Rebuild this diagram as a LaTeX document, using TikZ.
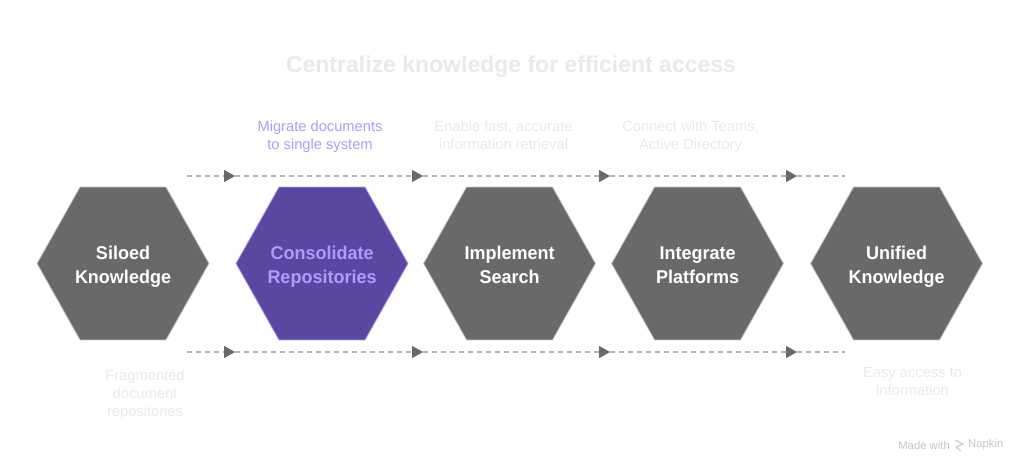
\documentclass[tikz,border=0pt]{standalone}
\usepackage{fontspec}
\setmainfont{Liberation Sans}
\usepackage{tikz}
\usetikzlibrary{shapes.geometric, arrows.meta, positioning}
\definecolor{hexgray}{HTML}{696969}
\definecolor{hexedge}{HTML}{C8C8C8}
\definecolor{hexpurple}{HTML}{5B479F}
\definecolor{lilac}{HTML}{AE9BFC}
\definecolor{faint}{HTML}{E9E9E9}
\definecolor{dashgray}{HTML}{B4B4B4}
\definecolor{markgray}{HTML}{C4C4C4}
\newcommand{\twolines}[2]{\strut\makebox[0pt]{\raisebox{-3pt}{#1}}\\\strut\makebox[0pt]{\raisebox{-3pt}{#2}}}
\tikzset{
	hexbox/.style={regular polygon, regular polygon sides=6, minimum size=172pt, yscale=1.027, transform shape,
		inner sep=0pt, outer sep=0pt, draw=hexedge, line width=0.8pt, fill=hexgray,
		text=white, align=center, font=\fontsize{18}{23}\selectfont\bfseries},
	hexactive/.style={hexbox, draw=lilac, fill=hexpurple, text=lilac},
	note/.style={inner sep=0pt, align=center, text=faint, font=\fontsize{14.7}{18}\selectfont},
	flowline/.style={dashed, dash pattern=on 5pt off 4pt, line width=1.1pt, draw=dashgray},
	flowarrow/.style={flowline, -{Triangle[length=11pt,width=12pt,color=hexgray]}}
}
\begin{document}
\begin{tikzpicture}[x=1pt,y=-1pt]
	\useasboundingbox (0,0) rectangle (1024,469);
	\coordinate (start) at (123,263.5);
	\node[hexbox] (silo) at (start) {\twolines{Siloed}{Knowledge}};
	\node[hexactive, right=27pt of silo] (repo) {\twolines{Consolidate}{Repositories}};
	\node[hexbox, right=15.5pt of repo] (search) {\twolines{Implement}{Search}};
	\node[hexbox, right=16pt of search] (plat) {\twolines{Integrate}{Platforms}};
	\node[hexbox, right=27pt of plat] (uni) {\twolines{Unified}{Knowledge}};

	\node[inner sep=0pt, text=faint, font=\fontsize{23}{27}\selectfont\bfseries] (title) at (511,67) {Centralize knowledge for efficient access};

	\node[note, text=lilac, above=34pt of repo, xshift=-2pt] (repotxt) {Migrate documents\\to single system};
	\node[note, above=37pt of search, xshift=-6pt] (searchtxt) {Enable fast, accurate\\information retrieval};
	\node[note, above=34pt of plat, xshift=-7pt] (plattxt) {Connect with Teams,\\Active Directory};
	\node[note, below=30pt of silo, xshift=22pt] (silotxt) {Fragmented\\document\\repositories};
	\node[note, below=27pt of uni, xshift=16pt] (unitxt) {Easy access to\\information};

	% top and bottom flow lines
	\foreach \row/\y in {t/176,b/352}{
		\coordinate (\row0) at (187,\y);
		\coordinate (\row1) at (235,\y);
		\coordinate (\row2) at (423,\y);
		\coordinate (\row3) at (610,\y);
		\coordinate (\row4) at (797,\y);
		\coordinate (\row5) at (845,\y);
		\foreach \from/\to in {0/1,1/2,2/3,3/4}
			\draw[flowarrow] (\row\from) -- (\row\to);
		\draw[flowline] (\row4) -- (\row5);
	}

	\node[inner sep=0pt, text=markgray, font=\fontsize{11.3}{13}\selectfont, anchor=east] (made) at (950,445) {Made with};
	\node[inner sep=0pt, text=markgray, font=\fontsize{11.3}{13}\selectfont, anchor=west] (napkin) at (968,445) {Napkin};
	\coordinate (m1) at (955,440);
	\coordinate (m2) at (963,444);
	\coordinate (m3) at (956,447);
	\coordinate (m4) at (961,451);
	\draw[markgray, line width=1pt] (m1) -- (m2) -- (m3) -- (m4);
\end{tikzpicture}
\end{document}
